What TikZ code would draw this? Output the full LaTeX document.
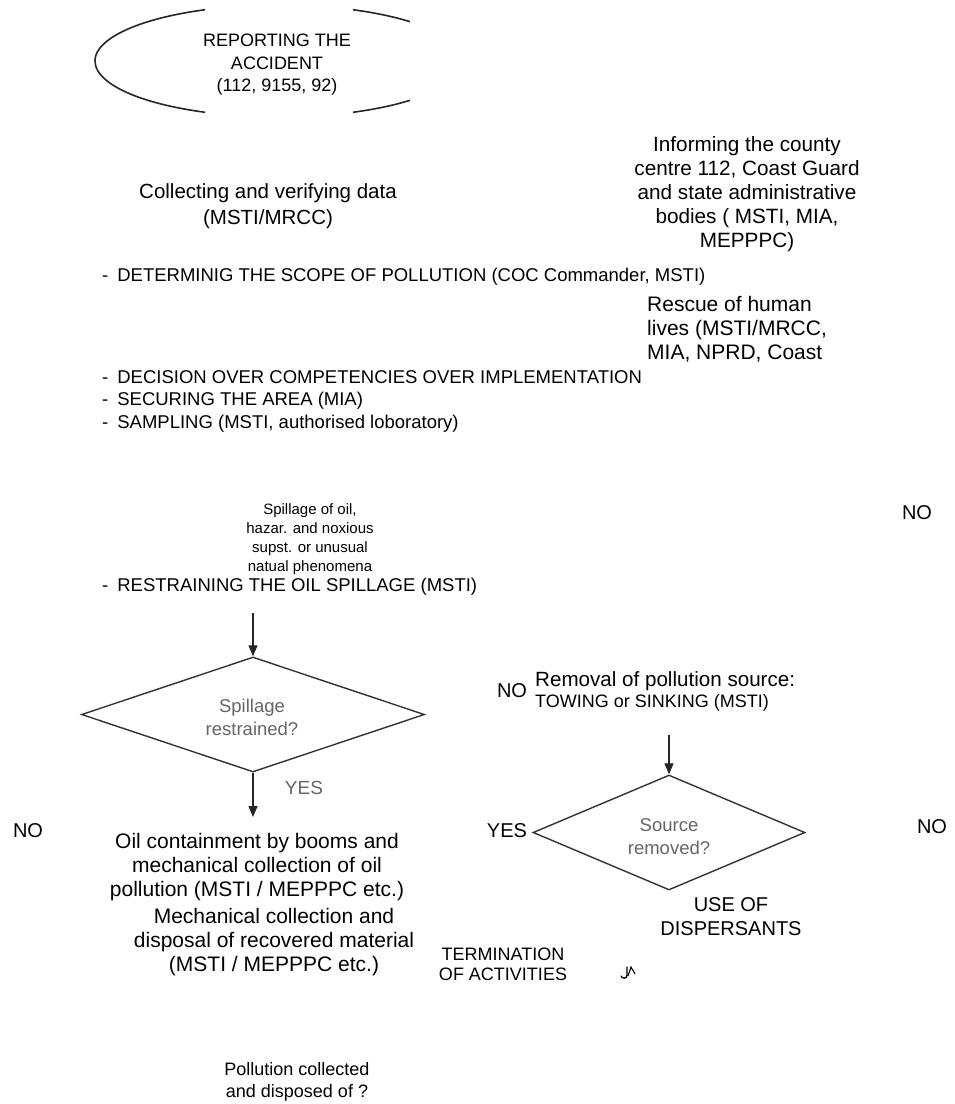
\documentclass[tikz,border=0pt]{standalone}
\usepackage{fontspec}
\setmainfont{Liberation Sans}
\usetikzlibrary{shapes.geometric,arrows.meta}
\newcommand{\fsz}[2]{\fontsize{#1}{#2}\selectfont}
\begin{document}
\begin{tikzpicture}[x=1pt,y=-1pt,
  lbl/.style={inner sep=0pt, align=center},
  lft/.style={inner sep=0pt, align=left, anchor=west},
  decide/.style={draw=black!80, line width=1.4pt, diamond, inner sep=0pt, aspect=3},
  arr/.style={draw=black!85, line width=1.2pt, -{Triangle[width=9pt,length=11pt]}},
  qtxt/.style={inner sep=0pt, align=center, text=black!60, font=\fsz{18.5}{23}},
  oval/.style={line width=1.6pt, black!85}
]
\useasboundingbox[fill=white] (0,0) rectangle (954,1104);
% ellipse (partly hidden)
\draw[oval] (279,61) ++(113.7:184 and 56) arc[start angle=113.7, end angle=246.3, x radius=184, y radius=56];
\draw[oval] (279,61) ++(44.6:184 and 56) arc[start angle=44.6, end angle=66.3, x radius=184, y radius=56];
\draw[oval] (279,61) ++(-66.3:184 and 56) arc[start angle=-66.3, end angle=-44.6, x radius=184, y radius=56];
\node[lbl, font=\fsz{18}{22.5}] (report) at (277,65) {REPORTING THE\\ACCIDENT\\(112, 9155, 92)};

\node[lbl, font=\fsz{20.5}{26}] (collect) at (268,206) {Collecting and verifying data\\(MSTI/MRCC)};
\node[lbl, font=\fsz{20.7}{24}] (inform) at (747,194) {Informing the county\\centre 112, Coast Guard\\and state administrative\\bodies ( MSTI, MIA,\\MEPPPC)};
\node[lft, font=\fsz{18.5}{22.5}] (scope) at (102,277) {-\hspace{9pt}DETERMINIG THE SCOPE OF POLLUTION (COC Commander, MSTI)};
\node[lft, font=\fsz{21}{24}] (rescue) at (647,329) {Rescue of human\\lives (MSTI/MRCC,\\MIA, NPRD, Coast};
\node[lft, font=\fsz{18.5}{22.5}] (tasks) at (102,401) {-\hspace{9pt}DECISION OVER COMPETENCIES OVER IMPLEMENTATION\\-\hspace{9pt}SECURING THE AREA (MIA)\\-\hspace{9pt}SAMPLING (MSTI, authorised loboratory)};
\node[lbl, font=\fsz{15}{19}] (spill) at (310,539) {Spillage of oil,\\hazar. and noxious\\supst. or unusual\\natual phenomena};
\node[lbl, font=\fsz{20}{24}] (no1) at (917,513) {NO};
\node[lft, font=\fsz{18.5}{22.5}] (restrain) at (102,587) {-\hspace{9pt}RESTRAINING THE OIL SPILLAGE (MSTI)};

% decision 1
\coordinate (a1) at (253,613);
\node[decide, minimum width=343pt, minimum height=115pt] (d1) at (253,714.5) {};
\node[qtxt] (q1) at (252,717) {Spillage\\restrained?};
\draw[arr] (a1) -- (d1.north);
\coordinate (a2) at (253,817);
\draw[arr] (d1.south) -- (a2);
\node[lbl, text=black!60, font=\fsz{19}{23}] (yes1) at (304,788) {YES};

% removal
\node[lbl, font=\fsz{20}{24}] (no2) at (512,691) {NO};
\node[lft, font=\fsz{20.6}{24}] (removal) at (535,681) {Removal of pollution source:};
\node[lft, font=\fsz{18}{22}] (towing) at (535,703) {TOWING or SINKING (MSTI)};

% decision 2
\coordinate (a3) at (669,735);
\node[decide, minimum width=272pt, minimum height=115pt] (d2) at (669,832.5) {};
\node[qtxt] (q2) at (669,837) {Source\\removed?};
\draw[arr] (a3) -- (d2.north);
\node[lbl, font=\fsz{20}{24}] (yes2) at (507,831) {YES};
\node[lbl, font=\fsz{20}{24}] (no3) at (28,831) {NO};
\node[lbl, font=\fsz{20}{24}] (no4) at (932,827) {NO};

\node[lbl, font=\fsz{21}{24}] (contain) at (257,867) {Oil containment by booms and\\mechanical collection of oil\\pollution (MSTI / MEPPPC etc.)};
\node[lbl, font=\fsz{21}{24}] (mech) at (274,942) {Mechanical collection and\\disposal of recovered material\\(MSTI / MEPPPC etc.)};
\node[lbl, font=\fsz{18}{20}] (term) at (503,964) {TERMINATION\\OF ACTIVITIES};
\node[lbl, font=\fsz{20}{24}] (disp) at (731,917) {USE OF\\DISPERSANTS};
\node[lbl, font=\fsz{18}{22}] (collected) at (297,1082) {Pollution collected\\and disposed of ?};

% small glyph mark
\draw[line width=1.3pt, line cap=round] (627,967) -- (627,975) .. controls (627,979) and (622,979) .. (621,976);
\draw[line width=1.1pt] (628,976) -- (631,967) -- (635,974);
\end{tikzpicture}
\end{document}
